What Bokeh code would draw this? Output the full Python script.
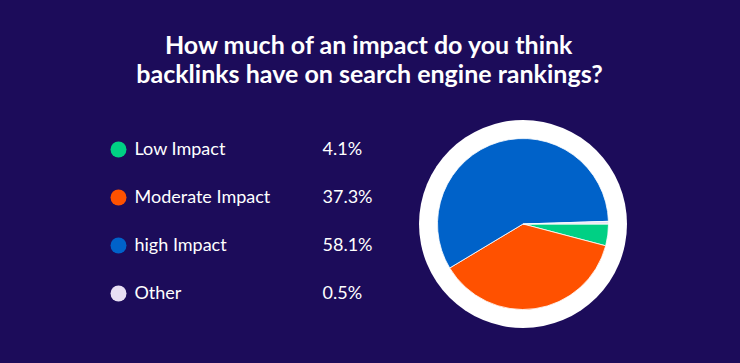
import math
from bokeh.plotting import figure
from bokeh.models import Range1d, ColumnDataSource
from bokeh.core.properties import value
from bokeh.embed import file_html
from bokeh.resources import INLINE

title_lines = ["How much of an impact do you think", "backlinks have on search engine rankings?"]
categories = ["Low Impact", "Moderate Impact", "high Impact", "Other"]
percents = [4.1, 37.3, 58.1, 0.5]
pct_labels = ["4.1%", "37.3%", "58.1%", "0.5%"]
colors = ["#00d084", "#ff5100", "#0062c9", "#e8dff4"]

BG = "#1c0c5a"
W, H = 724, 347

p = figure(width=W, height=H, output_backend="svg", toolbar_location=None,
           x_range=Range1d(0, W), y_range=Range1d(0, H), min_border=0,
           background_fill_color=BG, border_fill_color=BG, outline_line_color=None)
p.axis.visible = False
p.grid.visible = False

# Title
for i, line in enumerate(title_lines):
    p.text(x=[369], y=[H - 43 - 29 * i], text=[line], text_font=value("Lato"),
           text_font_style="bold", text_font_size="25px", text_color="white",
           text_align="center", text_baseline="middle")

# Legend
row_y0 = H - 149
step = 48
ys = [row_y0 - step * i for i in range(len(categories))]
src = ColumnDataSource(dict(y=ys, ty=[y + 2 for y in ys], cat=categories, pct=pct_labels, col=colors))
p.scatter(x=118, y="y", size=16, marker="circle", fill_color="col", line_color=None, source=src)
p.text(x=134, y="ty", text="cat", text_font=value("Lato"), text_font_size="18px",
       text_color="white", text_baseline="middle", source=src)
p.text(x=322, y="ty", text="pct", text_font=value("Lato"), text_font_size="18px",
       text_color="white", text_baseline="middle", source=src)

# Pie
cx, cy = 522.5, H - 223.5
p.circle(x=[cx], y=[cy], radius=104, radius_units="screen", fill_color="white", line_color=None)
total = sum(percents)
starts, ends = [], []
acc = 0.0
for v in percents:
    s = acc / total
    acc += v
    e = acc / total
    starts.append(-e * 2 * math.pi)
    ends.append(-s * 2 * math.pi)
wsrc = ColumnDataSource(dict(s=starts, e=ends, col=colors))
p.wedge(x=cx, y=cy, radius=85.5, radius_units="screen", start_angle="s", end_angle="e",
        fill_color="col", line_color="white", line_width=0.8, source=wsrc)

html = file_html(p, INLINE)
html = html.replace("</head>", "<style>body{background-color:%s;}</style></head>" % BG)
open("out.html", "w").write(html)
